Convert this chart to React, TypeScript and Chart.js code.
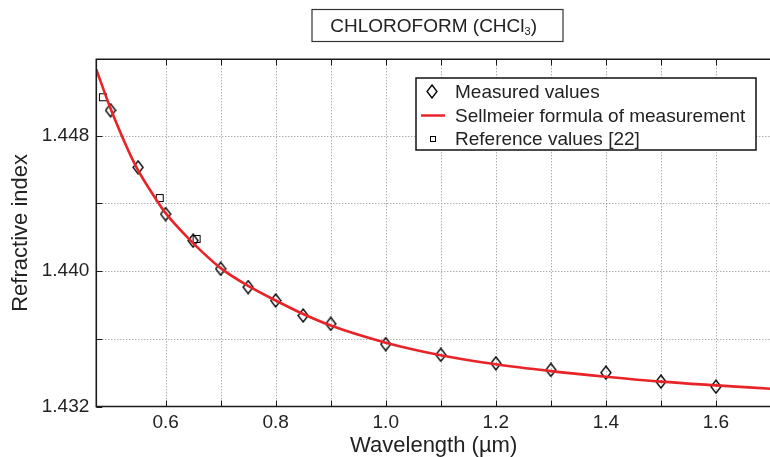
import React, { useEffect, useRef } from "react";
import { Chart, registerables } from "chart.js";

Chart.register(...registerables);

// ---- data ----
const X_MIN = 0.4741;
const X_MAX = 1.7;
const Y_MIN = 1.432;
const Y_MAX = 1.4525;
const X_STEP = 0.1;
const Y_STEP = 0.004;
const xTickLabels = ["0.6", "0.8", "1.0", "1.2", "1.4", "1.6"];
const yTickLabels = ["1.432", "1.440", "1.448"];

const measuredWavelength = [0.5, 0.55, 0.6, 0.65, 0.7, 0.75, 0.8, 0.85, 0.9, 1.0, 1.1, 1.2, 1.3, 1.4, 1.5, 1.6];
const measuredIndex = [1.44949, 1.44612, 1.44336, 1.44179, 1.44013, 1.43905, 1.43826, 1.43737, 1.43688, 1.43568, 1.43505, 1.43455, 1.43416, 1.434, 1.43347, 1.43317];

const referenceWavelength = [0.4861, 0.5893, 0.6563];
const referenceIndex = [1.45026, 1.44431, 1.44189];

const sellmeierWavelength = [0.4741, 0.5, 0.546, 0.5856, 0.5975, 0.6455, 0.6635, 0.7, 0.75, 0.8, 0.85, 0.9, 1.0, 1.1, 1.2, 1.3, 1.4, 1.5, 1.6, 1.7];
const sellmeierIndex = [1.4519, 1.4496, 1.44619, 1.44409, 1.44352, 1.44179, 1.44122, 1.44017, 1.43912, 1.43826, 1.43746, 1.43678, 1.43577, 1.43503, 1.43449, 1.43409, 1.43376, 1.43347, 1.43325, 1.43305];

const TITLE_MAIN = "CHLOROFORM (CHCl";
const TITLE_SUB = "3";
const TITLE_END = ")";
const legendLabels = ["Measured values", "Sellmeier formula of measurement", "Reference values [22]"];

const FONT = "'Liberation Sans', Arial, Helvetica, sans-serif";
const TEXT = "#222222";
const RED = "rgb(232,36,40)";
const GRID = "#8c8c8c";

function makeDiamond(): HTMLCanvasElement {
  const c = document.createElement("canvas");
  c.width = 12;
  c.height = 15;
  const g = c.getContext("2d")!;
  g.strokeStyle = "#000";
  g.lineWidth = 1.35;
  g.beginPath();
  g.moveTo(6, 1);
  g.lineTo(11, 7.5);
  g.lineTo(6, 14);
  g.lineTo(1, 7.5);
  g.closePath();
  g.stroke();
  return c;
}

function makeSquare(size: number): HTMLCanvasElement {
  const c = document.createElement("canvas");
  c.width = size + 2;
  c.height = size + 2;
  const g = c.getContext("2d")!;
  g.strokeStyle = "#000";
  g.lineWidth = 1;
  g.strokeRect(1.5, 1.5, size - 1, size - 1);
  return c;
}

const isMultiple = (v: number, step: number, base = 0) => {
  const r = (v - base) / step;
  return Math.abs(r - Math.round(r)) < 1e-6;
};

export default function App() {
  const ref = useRef<HTMLCanvasElement | null>(null);

  useEffect(() => {
    document.body.style.margin = "0";
    const canvas = ref.current!;
    const diamond = makeDiamond();
    const square = makeSquare(8);
    const legendSquare = makeSquare(6);

    const gridPlugin = {
      id: "dottedGrid",
      beforeDatasetsDraw(chart: any) {
        const { ctx, chartArea: a, scales } = chart;
        const xs = scales.x;
        const ys = scales.y;
        ctx.save();
        ctx.strokeStyle = GRID;
        ctx.lineWidth = 1;
        ctx.setLineDash([1, 2]);
        ctx.beginPath();
        for (const t of xs.ticks) {
          if (!isMultiple(t.value, X_STEP)) continue;
          const px = Math.round(xs.getPixelForValue(t.value)) + 0.5;
          if (px <= a.left + 1 || px >= a.right - 1) continue;
          ctx.moveTo(px, a.top);
          ctx.lineTo(px, a.bottom);
        }
        for (const t of ys.ticks) {
          if (!isMultiple(t.value, Y_STEP, Y_MIN)) continue;
          const py = Math.round(ys.getPixelForValue(t.value)) + 0.5;
          if (py <= a.top + 1 || py >= a.bottom - 1) continue;
          ctx.moveTo(a.left, py);
          ctx.lineTo(a.right, py);
        }
        ctx.stroke();
        ctx.restore();
      },
    };

    const overlay = {
      id: "overlay",
      afterDraw(chart: any) {
        const { ctx, chartArea: a, scales } = chart;
        const xs = scales.x;
        const ys = scales.y;
        ctx.save();
        // inward tick marks
        ctx.strokeStyle = "#1a1a1a";
        ctx.lineWidth = 1;
        const TL = 6;
        ctx.beginPath();
        for (const t of xs.ticks) {
          if (!isMultiple(t.value, X_STEP)) continue;
          const px = Math.round(xs.getPixelForValue(t.value)) + 0.5;
          ctx.moveTo(px, a.bottom);
          ctx.lineTo(px, a.bottom - TL);
          ctx.moveTo(px, a.top);
          ctx.lineTo(px, a.top + TL);
        }
        for (const t of ys.ticks) {
          if (!isMultiple(t.value, Y_STEP, Y_MIN)) continue;
          const py = Math.round(ys.getPixelForValue(t.value)) + 0.5;
          ctx.moveTo(a.left, py);
          ctx.lineTo(a.left + TL, py);
        }
        ctx.stroke();
        // frame
        ctx.strokeStyle = "#1a1a1a";
        ctx.lineWidth = 1.6;
        ctx.beginPath();
        ctx.moveTo(a.right, a.top);
        ctx.lineTo(a.left, a.top);
        ctx.lineTo(a.left, a.bottom);
        ctx.lineTo(a.right, a.bottom);
        ctx.stroke();

        // title box
        const cx = (a.left + a.right) / 2;
        ctx.fillStyle = "#fff";
        ctx.fillRect(312, 9.5, 251, 32);
        ctx.strokeStyle = "#333";
        ctx.lineWidth = 1.2;
        ctx.strokeRect(312, 9.5, 251, 32);
        ctx.font = "19px " + FONT;
        const wMain = ctx.measureText(TITLE_MAIN).width;
        const wEnd = ctx.measureText(TITLE_END).width;
        ctx.font = "11px " + FONT;
        const wSub = ctx.measureText(TITLE_SUB).width;
        const total = wMain + wSub + wEnd;
        let tx = cx - total / 2;
        const base = 32;
        ctx.fillStyle = TEXT;
        ctx.textBaseline = "alphabetic";
        ctx.textAlign = "left";
        ctx.font = "19px " + FONT;
        ctx.fillText(TITLE_MAIN, tx, base);
        tx += wMain;
        ctx.font = "11px " + FONT;
        ctx.fillText(TITLE_SUB, tx, base + 3);
        tx += wSub;
        ctx.font = "19px " + FONT;
        ctx.fillText(TITLE_END, tx, base);

        // legend
        const lx = 416, ly = 78, lw = 340, lh = 72;
        ctx.fillStyle = "#fff";
        ctx.fillRect(lx, ly, lw, lh);
        ctx.strokeStyle = "#111";
        ctx.lineWidth = 1.5;
        ctx.strokeRect(lx, ly, lw, lh);
        const rows = [91.7, 115.5, 138.5];
        ctx.drawImage(diamond, 432 - diamond.width / 2, Math.round(rows[0] - diamond.height / 2));
        ctx.strokeStyle = RED;
        ctx.lineWidth = 2.5;
        ctx.beginPath();
        ctx.moveTo(421, rows[1]);
        ctx.lineTo(445, rows[1]);
        ctx.stroke();
        ctx.drawImage(legendSquare, 433 - legendSquare.width / 2, Math.round(rows[2] - legendSquare.height / 2));
        ctx.fillStyle = TEXT;
        ctx.font = "19px " + FONT;
        ctx.textBaseline = "middle";
        legendLabels.forEach((s, i) => ctx.fillText(s, 455, rows[i] + 1));
        ctx.restore();
      },
    };

    const chart = new Chart(canvas, {
      type: "scatter",
      data: {
        datasets: [
          {
            label: legendLabels[1],
            data: sellmeierWavelength.map((x, i) => ({ x, y: sellmeierIndex[i] })),
            showLine: true,
            borderColor: RED,
            borderWidth: 2.6,
            pointRadius: 0,
            cubicInterpolationMode: "monotone",
            order: 0,
          } as any,
          {
            label: legendLabels[0],
            data: measuredWavelength.map((x, i) => ({ x, y: measuredIndex[i] })),
            pointStyle: diamond,
            pointRadius: 6,
            showLine: false,
            order: 1,
          } as any,
          {
            label: legendLabels[2],
            data: referenceWavelength.map((x, i) => ({ x, y: referenceIndex[i] })),
            pointStyle: square,
            pointRadius: 5,
            showLine: false,
            order: 2,
          } as any,
        ],
      },
      options: {
        animation: false,
        responsive: false,
        devicePixelRatio: 1,
        layout: { padding: { top: 59.3, left: 0, right: 0, bottom: 0 } },
        plugins: {
          legend: { display: false },
          title: { display: false },
          tooltip: { enabled: false },
        },
        scales: {
          x: {
            type: "linear",
            min: X_MIN,
            max: X_MAX,
            grid: { display: false, drawTicks: false },
            border: { display: false },
            ticks: {
              stepSize: X_STEP,
              padding: 5,
              color: TEXT,
              font: { family: FONT, size: 19 },
              maxRotation: 0,
              autoSkip: false,
              callback: (v: any) => {
                const s = Number(v).toFixed(1);
                return isMultiple(Number(v), X_STEP) && xTickLabels.includes(s) ? s : "";
              },
            },
            title: {
              display: true,
              text: "Wavelength (\u00b5m)",
              color: TEXT,
              font: { family: FONT, size: 22, lineHeight: 1 },
              padding: { top: 0, bottom: 0 },
            },
            afterFit: (s: any) => {
              s.height = 50.5;
            },
          },
          y: {
            type: "linear",
            min: Y_MIN,
            max: Y_MAX,
            grid: { display: false, drawTicks: false },
            border: { display: false },
            ticks: {
              stepSize: Y_STEP,
              padding: 7,
              color: TEXT,
              font: { family: FONT, size: 19 },
              autoSkip: false,
              callback: (v: any) => {
                const s = Number(v).toFixed(3);
                return isMultiple(Number(v), Y_STEP, Y_MIN) && yTickLabels.includes(s) ? s : "";
              },
            },
            title: {
              display: true,
              text: "Refractive index",
              color: TEXT,
              font: { family: FONT, size: 22, lineHeight: 1 },
              padding: { top: 9.5, bottom: 0 },
            },
            afterFit: (s: any) => {
              s.width = 96.3;
            },
          },
        },
      },
      plugins: [gridPlugin, overlay],
    } as any);
    return () => chart.destroy();
  }, []);

  return (
    <div style={{ position: "fixed", left: 0, top: 0, width: 770, height: 457, overflow: "hidden", background: "#fff" }}>
      <canvas ref={ref} width={778} height={457} style={{ display: "block", width: 778, height: 457 }} />
    </div>
  );
}
